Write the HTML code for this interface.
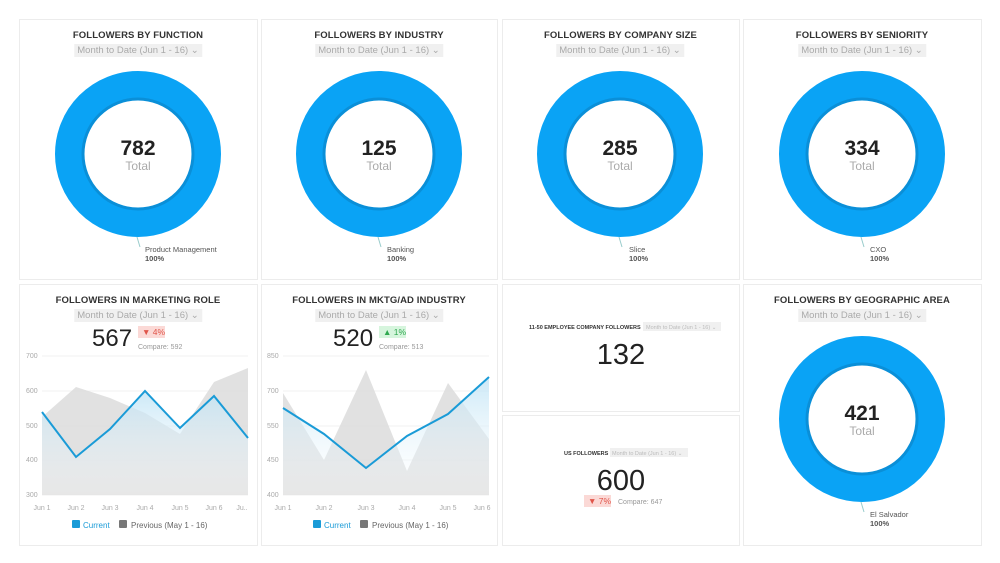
<!DOCTYPE html>
<html><head><meta charset="utf-8"><style>
body{margin:0;width:1000px;height:563px;background:#fff;font-family:"Liberation Sans",sans-serif;position:relative;overflow:hidden}
.c{position:absolute;background:#fff;border:1px solid #ececec;box-sizing:border-box}
.t{position:absolute;left:0;right:0;text-align:center;font-size:9.5px;font-weight:bold;color:#333;letter-spacing:.1px}
.d{position:absolute;left:50%;transform:translateX(-50%);background:#f0f0f0;color:#aaa;font-size:9.5px;padding:1px 3px;white-space:nowrap}
.tx{font-family:"Liberation Sans",sans-serif}
</style></head><body>
<svg width="1000" height="563" style="position:absolute;left:0;top:0">
<defs>
<linearGradient id="g" x1="0" y1="0" x2="0" y2="1"><stop offset="0" stop-color="#bfe3f5" stop-opacity=".8"/><stop offset="1" stop-color="#fff" stop-opacity=".2"/></linearGradient>
</defs>
<g fill="#fff" stroke="#ececec">
<rect x="19.5" y="19.5" width="238" height="260"/><rect x="261.5" y="19.5" width="236" height="260"/>
<rect x="502.5" y="19.5" width="237" height="260"/><rect x="743.5" y="19.5" width="238" height="260"/>
<rect x="19.5" y="284.5" width="238" height="261"/><rect x="261.5" y="284.5" width="236" height="261"/>
<rect x="502.5" y="284.5" width="237" height="127"/><rect x="502.5" y="415.5" width="237" height="130"/>
<rect x="743.5" y="284.5" width="238" height="261"/>
</g>
<g font-family="Liberation Sans" text-anchor="middle">
<g id="dn">
</g>
</g>
<!-- donuts -->
<g fill="none">
<circle cx="138" cy="154" r="68.5" stroke="#0aa3f5" stroke-width="29"/><circle cx="138" cy="154" r="55" stroke="#0a8fd8" stroke-width="3"/>
<circle cx="379" cy="154" r="68.5" stroke="#0aa3f5" stroke-width="29"/><circle cx="379" cy="154" r="55" stroke="#0a8fd8" stroke-width="3"/>
<circle cx="620" cy="154" r="68.5" stroke="#0aa3f5" stroke-width="29"/><circle cx="620" cy="154" r="55" stroke="#0a8fd8" stroke-width="3"/>
<circle cx="862" cy="154" r="68.5" stroke="#0aa3f5" stroke-width="29"/><circle cx="862" cy="154" r="55" stroke="#0a8fd8" stroke-width="3"/>
<circle cx="862" cy="419" r="68.5" stroke="#0aa3f5" stroke-width="29"/><circle cx="862" cy="419" r="55" stroke="#0a8fd8" stroke-width="3"/>
<g stroke="#9cc" stroke-width="1">
<path d="M137 237L140 247"/><path d="M378 237L381 247"/><path d="M619 237L622 247"/><path d="M861 237L864 247"/><path d="M861 502L864 512"/>
</g>
</g>
<g font-family="Liberation Sans" text-anchor="middle">
<g font-size="21" font-weight="bold" fill="#222">
<text x="138" y="155">782</text><text x="379" y="155">125</text><text x="620" y="155">285</text><text x="862" y="155">334</text><text x="862" y="420">421</text></g>
<g font-size="12" fill="#aaa">
<text x="138" y="170">Total</text><text x="379" y="170">Total</text><text x="620" y="170">Total</text><text x="862" y="170">Total</text><text x="862" y="435">Total</text></g>
</g>
<g font-family="Liberation Sans" font-size="7.5" fill="#555">
<text x="145" y="252">Product Management</text><text x="145" y="261" font-weight="bold">100%</text>
<text x="387" y="252">Banking</text><text x="387" y="261" font-weight="bold">100%</text>
<text x="629" y="252">Slice</text><text x="629" y="261" font-weight="bold">100%</text>
<text x="870" y="252">CXO</text><text x="870" y="261" font-weight="bold">100%</text>
<text x="870" y="517">El Salvador</text><text x="870" y="526" font-weight="bold">100%</text>
</g>
<!-- chart 1 -->
<g stroke="#f2f2f2"><path d="M42 356H248M42 391H248M42 426H248M42 460H248M42 495H248"/><path d="M283 356H489M283 391H489M283 426H489M283 460H489M283 495H489"/></g>
<g font-family="Liberation Sans" font-size="7" fill="#aaa">
<text x="26" y="358">700</text><text x="26" y="393">600</text><text x="26" y="428">500</text><text x="26" y="462">400</text><text x="26" y="497">300</text>
<text x="267" y="358">850</text><text x="267" y="393">700</text><text x="267" y="428">550</text><text x="267" y="462">450</text><text x="267" y="497">400</text>
<g text-anchor="middle"><text x="42" y="510">Jun 1</text><text x="76" y="510">Jun 2</text><text x="110" y="510">Jun 3</text><text x="145" y="510">Jun 4</text><text x="180" y="510">Jun 5</text><text x="214" y="510">Jun 6</text><text x="242" y="510">Ju..</text>
<text x="283" y="510">Jun 1</text><text x="324" y="510">Jun 2</text><text x="366" y="510">Jun 3</text><text x="407" y="510">Jun 4</text><text x="448" y="510">Jun 5</text><text x="482" y="510">Jun 6</text></g>
</g>
<path d="M42 417L76 387L110 398L145 413L180 434L214 382L248 368V495H42Z" fill="#d9d9d9" opacity=".8"/>
<path d="M42 412L76 457L110 429L145 391L180 428L214 396L248 438V495H42Z" fill="url(#g)"/>
<polyline points="42,412 76,457 110,429 145,391 180,428 214,396 248,438" fill="none" stroke="#1a9bd7" stroke-width="2"/>
<path d="M283 393L324 460L366 370L407 471L448 383L489 439V495H283Z" fill="#d9d9d9" opacity=".8"/>
<path d="M283 408L324 434L366 468L407 436L448 414L489 377V495H283Z" fill="url(#g)"/>
<polyline points="283,408 324,434 366,468 407,436 448,414 489,377" fill="none" stroke="#1a9bd7" stroke-width="2"/>
<!-- legends -->
<g font-family="Liberation Sans" font-size="8">
<rect x="72" y="520" width="8" height="8" rx="1" fill="#1a9bd7"/><text x="83" y="528" fill="#1a9bd7">Current</text>
<rect x="119" y="520" width="8" height="8" rx="1" fill="#777"/><text x="131" y="528" fill="#666">Previous (May 1 - 16)</text>
<rect x="313" y="520" width="8" height="8" rx="1" fill="#1a9bd7"/><text x="324" y="528" fill="#1a9bd7">Current</text>
<rect x="360" y="520" width="8" height="8" rx="1" fill="#777"/><text x="372" y="528" fill="#666">Previous (May 1 - 16)</text>
</g>
<!-- big numbers -->
<g font-family="Liberation Sans" fill="#222">
<text x="92" y="346" font-size="24">567</text><text x="333" y="346" font-size="24">520</text>
<text x="621" y="364" font-size="29" text-anchor="middle">132</text><text x="621" y="490" font-size="29" text-anchor="middle">600</text>
</g>
<g font-family="Liberation Sans" font-size="8.5">
<rect x="138" y="326" width="27" height="12" fill="#fbd9d6"/><text x="142" y="335" fill="#e0554a">▼ 4%</text>
<rect x="379" y="326" width="27" height="12" fill="#d6f5dd"/><text x="383" y="335" fill="#2fa84f">▲ 1%</text>
<rect x="584" y="495" width="27" height="12" fill="#fbd9d6"/><text x="588" y="504" fill="#e0554a">▼ 7%</text>
<g font-size="7" fill="#999"><text x="138" y="349">Compare: 592</text><text x="379" y="349">Compare: 513</text><text x="618" y="504">Compare: 647</text></g>
</g>
<g font-family="Liberation Sans" font-size="5.5">
<text x="529" y="329" font-weight="bold" fill="#333">11-50 EMPLOYEE COMPANY FOLLOWERS</text>
<rect x="643" y="322" width="78" height="9" fill="#f0f0f0"/><text x="646" y="329" fill="#bbb">Month to Date (Jun 1 - 16) ⌄</text>
<text x="564" y="455" font-weight="bold" fill="#333">US FOLLOWERS</text>
<rect x="610" y="448" width="78" height="9" fill="#f0f0f0"/><text x="612" y="455" fill="#bbb">Month to Date (Jun 1 - 16) ⌄</text>
</g>
</svg>
<div class="t" style="left:19px;width:238px;right:auto;top:30px">FOLLOWERS BY FUNCTION</div>
<div class="d" style="left:138px;top:44px">Month to Date (Jun 1 - 16) ⌄</div>
<div class="t" style="left:261px;width:236px;right:auto;top:30px">FOLLOWERS BY INDUSTRY</div>
<div class="d" style="left:379px;top:44px">Month to Date (Jun 1 - 16) ⌄</div>
<div class="t" style="left:502px;width:237px;right:auto;top:30px">FOLLOWERS BY COMPANY SIZE</div>
<div class="d" style="left:620px;top:44px">Month to Date (Jun 1 - 16) ⌄</div>
<div class="t" style="left:743px;width:238px;right:auto;top:30px">FOLLOWERS BY SENIORITY</div>
<div class="d" style="left:862px;top:44px">Month to Date (Jun 1 - 16) ⌄</div>
<div class="t" style="left:19px;width:238px;right:auto;top:295px">FOLLOWERS IN MARKETING ROLE</div>
<div class="d" style="left:138px;top:309px">Month to Date (Jun 1 - 16) ⌄</div>
<div class="t" style="left:261px;width:236px;right:auto;top:295px">FOLLOWERS IN MKTG/AD INDUSTRY</div>
<div class="d" style="left:379px;top:309px">Month to Date (Jun 1 - 16) ⌄</div>
<div class="t" style="left:743px;width:238px;right:auto;top:295px">FOLLOWERS BY GEOGRAPHIC AREA</div>
<div class="d" style="left:862px;top:309px">Month to Date (Jun 1 - 16) ⌄</div>
</body></html>
